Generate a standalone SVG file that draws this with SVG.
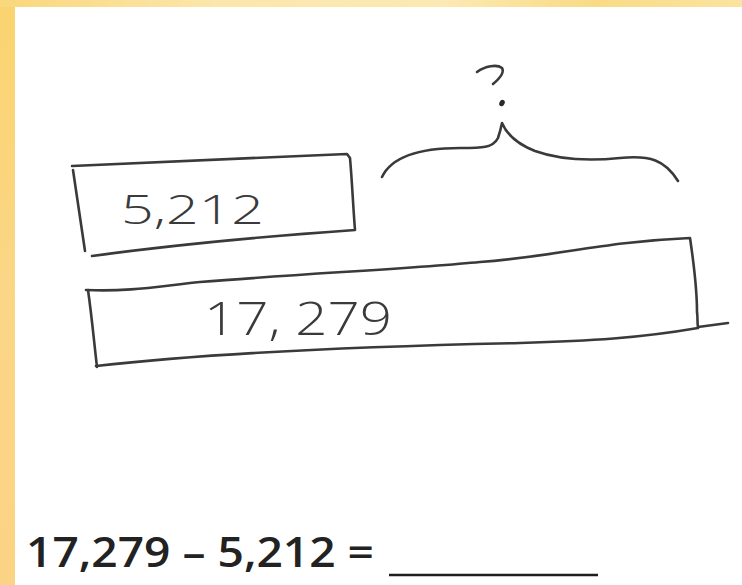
<svg xmlns="http://www.w3.org/2000/svg" width="742" height="585" viewBox="0 0 742 585">
<defs>
<linearGradient id="bgTop" x1="0" y1="0" x2="1" y2="0">
<stop offset="0" stop-color="#f9d77c"/>
<stop offset="0.3" stop-color="#fbe7ad"/>
<stop offset="0.6" stop-color="#fce9b3"/>
<stop offset="0.8" stop-color="#f9db85"/>
<stop offset="1" stop-color="#fbe4a0"/>
</linearGradient>
<linearGradient id="bgLeft" x1="0" y1="0" x2="0" y2="1">
<stop offset="0" stop-color="#fad46f"/>
<stop offset="0.5" stop-color="#fbd686"/>
<stop offset="1" stop-color="#fbd384"/>
</linearGradient>
</defs>
<style>
.pen{fill:none;stroke:#3a3a3a;stroke-width:2.6;stroke-linecap:round;stroke-linejoin:round}
.hand{font-family:"Open Sans","DejaVu Sans",sans-serif;font-weight:300;fill:#3a3a3a}
.eq{font-family:"Open Sans","Liberation Sans",sans-serif;font-weight:600;fill:#222222}
</style>
<rect x="0" y="0" width="742" height="585" fill="url(#bgLeft)"/>
<rect x="0" y="0" width="742" height="7" fill="url(#bgTop)"/>
<rect x="15" y="7" width="727" height="578" fill="#ffffff"/>

<g id="part-box">
<path class="pen" d="M72,166 C150,162 250,158 347,154 L350,158 C352,180 353,205 355,230 C270,236 180,244 92,256"/>
<path class="pen" d="M73,170 C77,198 81,225 85,251"/>
<text class="hand" x="121" y="224" font-size="40" textLength="143" lengthAdjust="spacingAndGlyphs">5,212</text>
</g>

<g id="whole-box">
<path class="pen" d="M86,290 C130,292 160,286 200,282 C300,274 420,268 480,262 C560,256 600,242 690,238 C694,265 697,290 697,312 C698,318 697,323 698,327"/>
<path class="pen" d="M698,327 L728,323"/>
<path class="pen" d="M88,290 C92,318 94,342 97,367"/>
<path class="pen" d="M96,366 C220,352 380,346 520,343 C590,341 640,338 698,328"/>
<text class="hand" x="204" y="335" font-size="46" textLength="188" lengthAdjust="spacingAndGlyphs">17, 279</text>
</g>

<g id="unknown-brace">
<path class="pen" d="M382,177 C392,156 420,148 460,148 C482,148 493,148 498,138 C500,132 501,128 502,123 C507,135 520,145 535,151 C560,160 590,161 620,158 C650,155 665,160 678,181"/>
<path class="pen" d="M477,72 C485,66 497,64 502,68 C505,73 499,79 493,84"/>
<ellipse cx="502" cy="103" rx="2.6" ry="3.4" fill="#2a2a2a" transform="rotate(25 502 103)"/>
</g>

<g id="equation">
<text class="eq" x="26" y="567" font-size="42" textLength="348" lengthAdjust="spacingAndGlyphs">17,279 – 5,212 =</text>
<line x1="389" y1="575" x2="598" y2="575" stroke="#1e1e1e" stroke-width="2.5"/>
</g>
</svg>
